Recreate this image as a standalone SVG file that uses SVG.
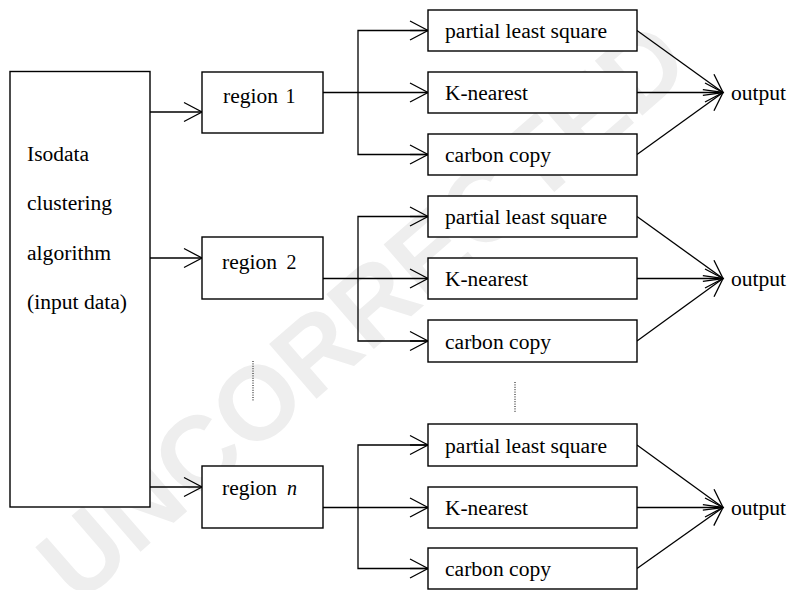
<svg xmlns="http://www.w3.org/2000/svg" width="790" height="590" viewBox="0 0 790 590">
<style>
.box{fill:#fff;stroke:#000;stroke-width:1.4}
.t{font-family:"Liberation Serif",serif;font-size:20px;fill:#000}
.c{fill:none;stroke:#000;stroke-width:1.3}
.dot{fill:none;stroke:#000;stroke-width:1;stroke-dasharray:1,1.4}
.wm{font-family:"Liberation Sans",Arial,sans-serif;font-weight:bold;font-size:105px;fill:#eeeeee}
</style>
<defs>
<marker id="arr" markerUnits="userSpaceOnUse" markerWidth="22" markerHeight="22" refX="18" refY="10" orient="auto" overflow="visible">
<path d="M0,0.5 L18,10 L0,19.5" fill="none" stroke="#000" stroke-width="1.3"/>
</marker>
</defs>
<rect width="790" height="590" fill="#fff"/>
<text class="wm" x="78" y="606" transform="rotate(-41 78 606)">UNCORRECTED</text>

<g id="connectors">
<line class="c" x1="150" y1="112" x2="202" y2="112" marker-end="url(#arr)"/>
<line class="c" x1="150" y1="258" x2="202" y2="258" marker-end="url(#arr)"/>
<line class="c" x1="150" y1="487" x2="202" y2="487" marker-end="url(#arr)"/>

<line class="c" x1="323" y1="92.5" x2="428" y2="92.5" marker-end="url(#arr)"/>
<path class="c" d="M428,30.5 H358 V154.5 H428" />
<line class="c" x1="410" y1="30.5" x2="428" y2="30.5" marker-end="url(#arr)"/>
<line class="c" x1="410" y1="154.5" x2="428" y2="154.5" marker-end="url(#arr)"/>

<line class="c" x1="323" y1="278.5" x2="428" y2="278.5" marker-end="url(#arr)"/>
<path class="c" d="M428,216.5 H358 V341 H428" />
<line class="c" x1="410" y1="216.5" x2="428" y2="216.5" marker-end="url(#arr)"/>
<line class="c" x1="410" y1="341" x2="428" y2="341" marker-end="url(#arr)"/>

<line class="c" x1="323" y1="507.5" x2="428" y2="507.5" marker-end="url(#arr)"/>
<path class="c" d="M428,445 H358 V568.5 H428" />
<line class="c" x1="410" y1="445" x2="428" y2="445" marker-end="url(#arr)"/>
<line class="c" x1="410" y1="568.5" x2="428" y2="568.5" marker-end="url(#arr)"/>

<line class="c" x1="637" y1="30.5" x2="723" y2="92.5" marker-end="url(#arr)"/>
<line class="c" x1="637" y1="92.5" x2="723" y2="92.5" marker-end="url(#arr)"/>
<line class="c" x1="637" y1="154.5" x2="723" y2="92.5" marker-end="url(#arr)"/>

<line class="c" x1="637" y1="216.5" x2="723" y2="278.5" marker-end="url(#arr)"/>
<line class="c" x1="637" y1="278.5" x2="723" y2="278.5" marker-end="url(#arr)"/>
<line class="c" x1="637" y1="341" x2="723" y2="278.5" marker-end="url(#arr)"/>

<line class="c" x1="637" y1="445" x2="723" y2="507.5" marker-end="url(#arr)"/>
<line class="c" x1="637" y1="507.5" x2="723" y2="507.5" marker-end="url(#arr)"/>
<line class="c" x1="637" y1="568.5" x2="723" y2="507.5" marker-end="url(#arr)"/>

<line class="dot" x1="253" y1="361" x2="253" y2="401"/>
<line class="dot" x1="515" y1="382" x2="515" y2="412"/>
</g>

<g id="input">
<rect class="box" x="10" y="71.5" width="140" height="435.5"/>
<text class="t" x="27" y="161" textLength="62" lengthAdjust="spacingAndGlyphs">Isodata</text>
<text class="t" x="27" y="210" textLength="85" lengthAdjust="spacingAndGlyphs">clustering</text>
<text class="t" x="27" y="260" textLength="84" lengthAdjust="spacingAndGlyphs">algorithm</text>
<text class="t" x="27" y="309" textLength="100" lengthAdjust="spacingAndGlyphs">(input data)</text>
</g>

<g id="region1">
<rect class="box" x="202" y="72" width="121" height="61"/>
<text class="t" x="223" y="103" textLength="55" lengthAdjust="spacingAndGlyphs">region</text>
<text class="t" x="285.5" y="103">1</text>
</g>
<g id="region2">
<rect class="box" x="202" y="237" width="121" height="62"/>
<text class="t" x="222" y="269" textLength="55" lengthAdjust="spacingAndGlyphs">region</text>
<text class="t" x="286.5" y="269">2</text>
</g>
<g id="regionn">
<rect class="box" x="202" y="466" width="121" height="62"/>
<text class="t" x="222" y="495" textLength="55" lengthAdjust="spacingAndGlyphs">region</text>
<text class="t" x="287" y="495" font-style="italic">n</text>
</g>

<g id="pls1"><rect class="box" x="428" y="10" width="209" height="41"/><text class="t" x="445" y="38" textLength="162" lengthAdjust="spacingAndGlyphs">partial least square</text></g>
<g id="knn1"><rect class="box" x="428" y="72" width="209" height="41"/><text class="t" x="445" y="100" textLength="83" lengthAdjust="spacingAndGlyphs">K-nearest</text></g>
<g id="cc1"><rect class="box" x="428" y="134" width="209" height="41"/><text class="t" x="445" y="162" textLength="106" lengthAdjust="spacingAndGlyphs">carbon copy</text></g>
<g id="out1"><text class="t" x="731" y="100" textLength="55" lengthAdjust="spacingAndGlyphs">output</text></g>

<g id="pls2"><rect class="box" x="428" y="196" width="209" height="41"/><text class="t" x="445" y="224" textLength="162" lengthAdjust="spacingAndGlyphs">partial least square</text></g>
<g id="knn2"><rect class="box" x="428" y="258" width="209" height="41"/><text class="t" x="445" y="286" textLength="83" lengthAdjust="spacingAndGlyphs">K-nearest</text></g>
<g id="cc2"><rect class="box" x="428" y="320" width="209" height="42"/><text class="t" x="445" y="348.5" textLength="106" lengthAdjust="spacingAndGlyphs">carbon copy</text></g>
<g id="out2"><text class="t" x="731" y="286" textLength="55" lengthAdjust="spacingAndGlyphs">output</text></g>

<g id="pls3"><rect class="box" x="428" y="424" width="209" height="42"/><text class="t" x="445" y="452.5" textLength="162" lengthAdjust="spacingAndGlyphs">partial least square</text></g>
<g id="knn3"><rect class="box" x="428" y="487" width="209" height="41"/><text class="t" x="445" y="515" textLength="83" lengthAdjust="spacingAndGlyphs">K-nearest</text></g>
<g id="cc3"><rect class="box" x="428" y="548" width="209" height="41"/><text class="t" x="445" y="576" textLength="106" lengthAdjust="spacingAndGlyphs">carbon copy</text></g>
<g id="out3"><text class="t" x="731" y="515" textLength="55" lengthAdjust="spacingAndGlyphs">output</text></g>
</svg>
